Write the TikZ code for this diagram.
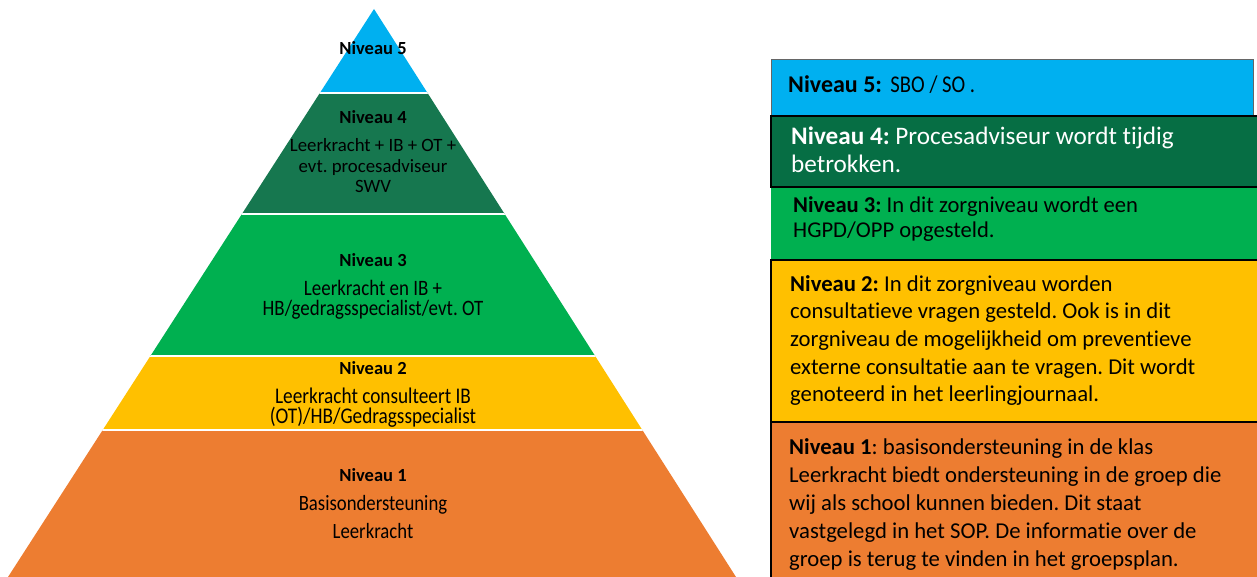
\documentclass[tikz,border=0pt]{standalone}
\usepackage{fontspec}
\setmainfont{Carlito}[Ligatures=NoCommon]
\newfontfamily\smal[FakeStretch=0.86, Ligatures=NoCommon]{Carlito}
\usetikzlibrary{positioning}
\frenchspacing

\definecolor{lichtblauw}{HTML}{00B0F0}
\definecolor{donkergroen}{HTML}{16774F}
\definecolor{vakgroen}{HTML}{066E44}
\definecolor{groen}{HTML}{00B050}
\definecolor{geel}{HTML}{FFC000}
\definecolor{oranje}{HTML}{ED7D31}

\begin{document}
		\begin{tikzpicture}[x=1pt, y=-1pt,
			titel/.style={font=\bfseries\fontsize{18.5}{21}\selectfont, anchor=base},
			uitleg/.style={text width=300pt, align=flush center, anchor=base, inner sep=0pt},
			vak/.style={draw=black, line width=1.4pt},
			vaktekst/.style={anchor=base west, inner sep=0pt, text width=465pt, align=flush left}]
			\clip (0,0) rectangle (1257,577);

			% piramide
			\coordinate (top) at (374,9);
			\coordinate (links) at (8,577);
			\coordinate (rechts) at (736,577);
			\begin{scope}
				\clip (top) -- (links) -- (rechts) -- cycle;
				\fill[lichtblauw] (0,0) rectangle (760,93);
				\fill[donkergroen] (0,93) rectangle (760,214);
				\fill[groen] (0,214) rectangle (760,356);
				\fill[geel] (0,356) rectangle (760,430);
				\fill[oranje] (0,430) rectangle (760,580);
				\foreach \y in {93,214,356,430}
					\draw[white, line width=2pt] (0,\y) -- (760,\y);
			\end{scope}

			\node[titel] (n5) at (373,55) {Niveau 5};
			\node[titel] (n4) at (373,124) {Niveau 4};
			\node[uitleg, below=28pt of n4.base, anchor=base, font=\fontsize{18.8}{20.5}\selectfont] (u4)
				{Leerkracht + IB + OT +\\evt. procesadviseur\\SWV};
			\node[titel] (n3) at (373,266) {Niveau 3};
			\node[uitleg, below=29pt of n3.base, anchor=base, font=\smal\fontsize{22}{20.5}\selectfont] (u3)
				{Leerkracht en IB +\\HB/gedragsspecialist/evt. OT};
			\node[titel] (n2) at (373,374) {Niveau 2};
			\node[uitleg, below=29pt of n2.base, anchor=base, font=\smal\fontsize{22.4}{20.5}\selectfont] (u2)
				{Leerkracht consulteert IB\\(OT)/HB/Gedragsspecialist};
			\node[titel] (n1) at (373,481) {Niveau 1};
			\node[uitleg, below=29pt of n1.base, anchor=base, font=\smal\fontsize{21.8}{28}\selectfont] (u1)
				{Basisondersteuning\\Leerkracht};

			% vakken rechts
			\fill[groen] (771,187) rectangle (1260,260);
			\filldraw[fill=lichtblauw, draw=gray!80!black, line width=0.8pt] (771,59) rectangle (1253,116);
			\filldraw[vak, fill=vakgroen] (771,116) rectangle (1262,187);
			\filldraw[vak, fill=geel] (771,260) rectangle (1262,422);
			\filldraw[vak, fill=oranje] (771,422) rectangle (1262,582);

			\node[vaktekst, font=\fontsize{24}{24}\selectfont] (v5) at (788,93)
				{\textbf{Niveau 5:}\hspace{3pt} {\smal SBO / SO .}};
			\node[vaktekst, font=\fontsize{25.2}{28}\selectfont, text=white] (v4) at (791,145)
				{\textbf{Niveau 4:} Procesadviseur wordt tijdig\\betrokken.};
			\node[vaktekst, font=\fontsize{22.6}{25}\selectfont] (v3) at (793,213)
				{\textbf{Niveau 3:} In dit zorgniveau wordt een\\HGPD/OPP opgesteld.};
			\node[vaktekst, font=\fontsize{22.7}{27.7}\selectfont] (v2) at (790,291)
				{\textbf{Niveau 2:} In dit zorgniveau worden\\consultatieve vragen gesteld. Ook is in dit\\zorgniveau de mogelijkheid om preventieve\\externe consultatie aan te vragen. Dit wordt\\genoteerd in het leerlingjournaal.};
			\node[vaktekst, font=\fontsize{22.7}{28}\selectfont] (v1) at (789,454)
				{\textbf{Niveau 1}: basisondersteuning in de klas\\Leerkracht biedt ondersteuning in de groep die\\wij als school kunnen bieden. Dit staat\\vastgelegd in het SOP. De informatie over de\\groep is terug te vinden in het groepsplan.};

		\end{tikzpicture}
\end{document}
